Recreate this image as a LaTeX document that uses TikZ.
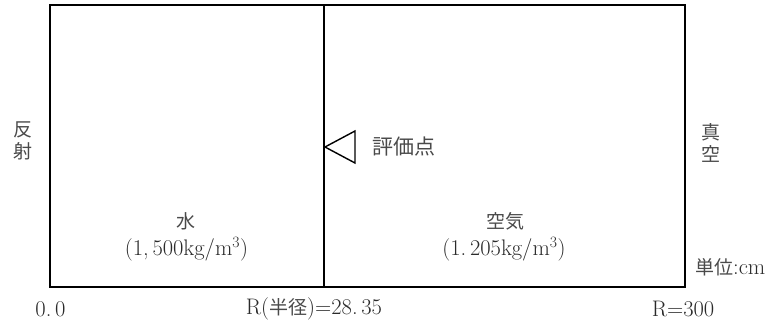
\documentclass[tikz,border=0pt]{standalone}
\usepackage{fontspec}
\newfontfamily\jp{Noto Sans CJK JP}
\definecolor{txt}{HTML}{2A2A2A}
\definecolor{jtxt}{HTML}{4A4A4A}
\begin{document}
\begin{tikzpicture}[x=1pt,y=1pt,
  lbl/.style={inner sep=0pt, text=txt, font=\fontsize{22.5}{24}\selectfont},
  jlbl/.style={lbl, text=jtxt, font=\fontsize{19}{21}\selectfont\jp},
  vlbl/.style={jlbl, align=center, font=\fontsize{19}{22}\selectfont\jp},
  frame/.style={draw=black, line width=2pt},
  thin/.style={draw=black, line width=1.4pt}]
\useasboundingbox (0,0) rectangle (778,326);
% regions
\coordinate (tl) at (50,321);
\coordinate (br) at (685,39);
\coordinate (dtop) at (324,321);
\coordinate (dbot) at (324,39);
\draw[frame] (tl) rectangle (br);
\draw[thin] (dtop) -- (dbot);
% evaluation point marker
\coordinate (apex) at (325,179);
\coordinate (bu) at (355,195);
\coordinate (bd) at (355,163);
\draw[thin, line join=miter] (bu) -- (apex) -- (bd) -- cycle;
\node[jlbl, font=\fontsize{21}{23}\selectfont\jp] (eval) at (404,179) {評価点};
% side labels
\node[vlbl] (refl) at (23,185) {反\\射};
\node[vlbl] (vac) at (711,183) {真\\空};
% materials
\node[jlbl] (water) at (186,105) {水};
\node[lbl] (wden) at (186.5,77) {(1,\,500kg/m\textsuperscript{3})};
\node[jlbl] (air) at (505,105) {空気};
\node[lbl] (aden) at (504,77) {(1.\,205kg/m\textsuperscript{3})};
\node[lbl, anchor=west] (unit) at (695,59) {{\color{jtxt}\jp\fontsize{19}{21}\selectfont 単位}:cm};
% axis labels
\node[lbl] (r0) at (50.5,17) {0.\,0};
\node[lbl] (r1) at (314,17) {R({\color{jtxt}\jp\fontsize{19}{21}\selectfont 半径})=28.\,35};
\node[lbl] (r2) at (683,17) {R=300};
\end{tikzpicture}
\end{document}
